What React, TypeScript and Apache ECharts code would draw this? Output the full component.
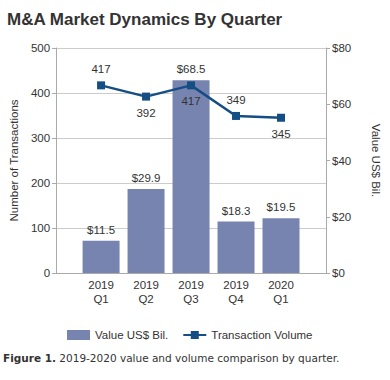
import React, { useEffect, useRef } from "react";
import * as echarts from "echarts";

const categories = ["2019\nQ1", "2019\nQ2", "2019\nQ3", "2019\nQ4", "2020\nQ1"];
const valueUSD = [11.5, 29.9, 68.5, 18.3, 19.5];
const transactionVolume = [417, 392, 417, 349, 345];
const volumeLabelPos = ["top", "bottom", "bottom", "top", "bottom"];
const leftTicks = { min: 0, max: 500, interval: 100 };
const rightTicks = { min: 0, max: 80, interval: 20 };

const FONT = "'Liberation Sans', Arial, sans-serif";
const TXT = "#333333";
const BAR = "#7884b0";
const LINE = "#154d85";

export default function App() {
  const ref = useRef<HTMLDivElement>(null);
  useEffect(() => {
    document.body.style.margin = "0";
    const chart = echarts.init(ref.current!, null, { renderer: "svg" });
    const cats = ["", ...categories, ""];
    const barData: any[] = ["-", ...valueUSD, "-"];
    const lineData: any[] = [
      "-",
      ...transactionVolume.map((v, i) => ({
        value: v,
        label: { position: volumeLabelPos[i] },
      })),
      "-",
    ];
    chart.setOption({
      animation: false,
      textStyle: { fontFamily: FONT },
      title: {
        text: "M&A Market Dynamics By Quarter",
        left: 2,
        top: 6,
        textStyle: { fontFamily: FONT, fontSize: 17, fontWeight: "bold", color: "#333" },
      },
      graphic: [
        {
          type: "text",
          left: 3,
          top: 352,
          style: {
            text: "{b|Figure 1.} {n|2019-2020 value and volume comparison by quarter.}",
            rich: {
              b: { fontFamily: "'DejaVu Sans', Verdana, sans-serif", fontSize: 10.5, fontWeight: "bold", fill: "#333" },
              n: { fontFamily: "'DejaVu Sans', Verdana, sans-serif", fontSize: 10.5, fill: "#333" },
            },
          },
        },
      ],
      legend: {
        left: 62,
        top: 324,
        itemWidth: 23,
        itemHeight: 10,
        itemGap: 14,
        textStyle: { fontFamily: FONT, fontSize: 11.5, color: TXT },
        data: [
          { name: "Value US$ Bil.", icon: "rect" },
          { name: "Transaction Volume" },
        ],
      },
      grid: { left: 52, right: 56, top: 48, bottom: 107, containLabel: false },
      xAxis: {
        type: "category",
        data: cats,
        boundaryGap: false,
        axisLine: { lineStyle: { color: "#aaaaaa" } },
        axisTick: { show: false },
        axisLabel: { color: TXT, fontSize: 11.5, lineHeight: 14, margin: 5, interval: 0 },
        splitLine: { show: false },
      },
      yAxis: [
        {
          type: "value",
          ...leftTicks,
          name: "Number of Transactions",
          nameLocation: "middle",
          nameGap: 35,
          nameTextStyle: { color: TXT, fontSize: 11.5 },
          axisLine: { show: true, lineStyle: { color: "#aaaaaa" } },
          axisTick: { show: true, length: 4, lineStyle: { color: "#aaaaaa" } },
          axisLabel: { color: TXT, fontSize: 11.5, margin: 6 },
          splitLine: { show: true, lineStyle: { color: "#cccccc" } },
        },
        {
          type: "value",
          ...rightTicks,
          position: "right",
          name: "Value US$ Bil.",
          nameLocation: "middle",
          nameRotate: -90,
          nameGap: 44,
          nameTextStyle: { color: TXT, fontSize: 11.5 },
          axisLine: { show: true, lineStyle: { color: "#aaaaaa" } },
          axisTick: { show: true, length: 4, lineStyle: { color: "#aaaaaa" } },
          axisLabel: { color: TXT, fontSize: 11.5, margin: 6, formatter: "${value}" },
          splitLine: { show: false },
        },
      ],
      series: [
        {
          name: "Value US$ Bil.",
          type: "bar",
          yAxisIndex: 1,
          data: barData,
          barWidth: 37,
          itemStyle: { color: BAR },
          label: {
            show: true,
            position: "top",
            distance: 5,
            color: TXT,
            fontSize: 11.5,
            formatter: (p: any) => "$" + p.value,
          },
        },
        {
          name: "Transaction Volume",
          type: "line",
          yAxisIndex: 0,
          data: lineData,
          symbol: "rect",
          symbolSize: 8,
          lineStyle: { color: LINE, width: 2.5 },
          itemStyle: { color: LINE },
          label: { show: true, color: TXT, fontSize: 11.5, distance: 6 },
        },
      ],
    });
    return () => chart.dispose();
  }, []);
  return <div ref={ref} style={{ width: 390, height: 380 }} />;
}
